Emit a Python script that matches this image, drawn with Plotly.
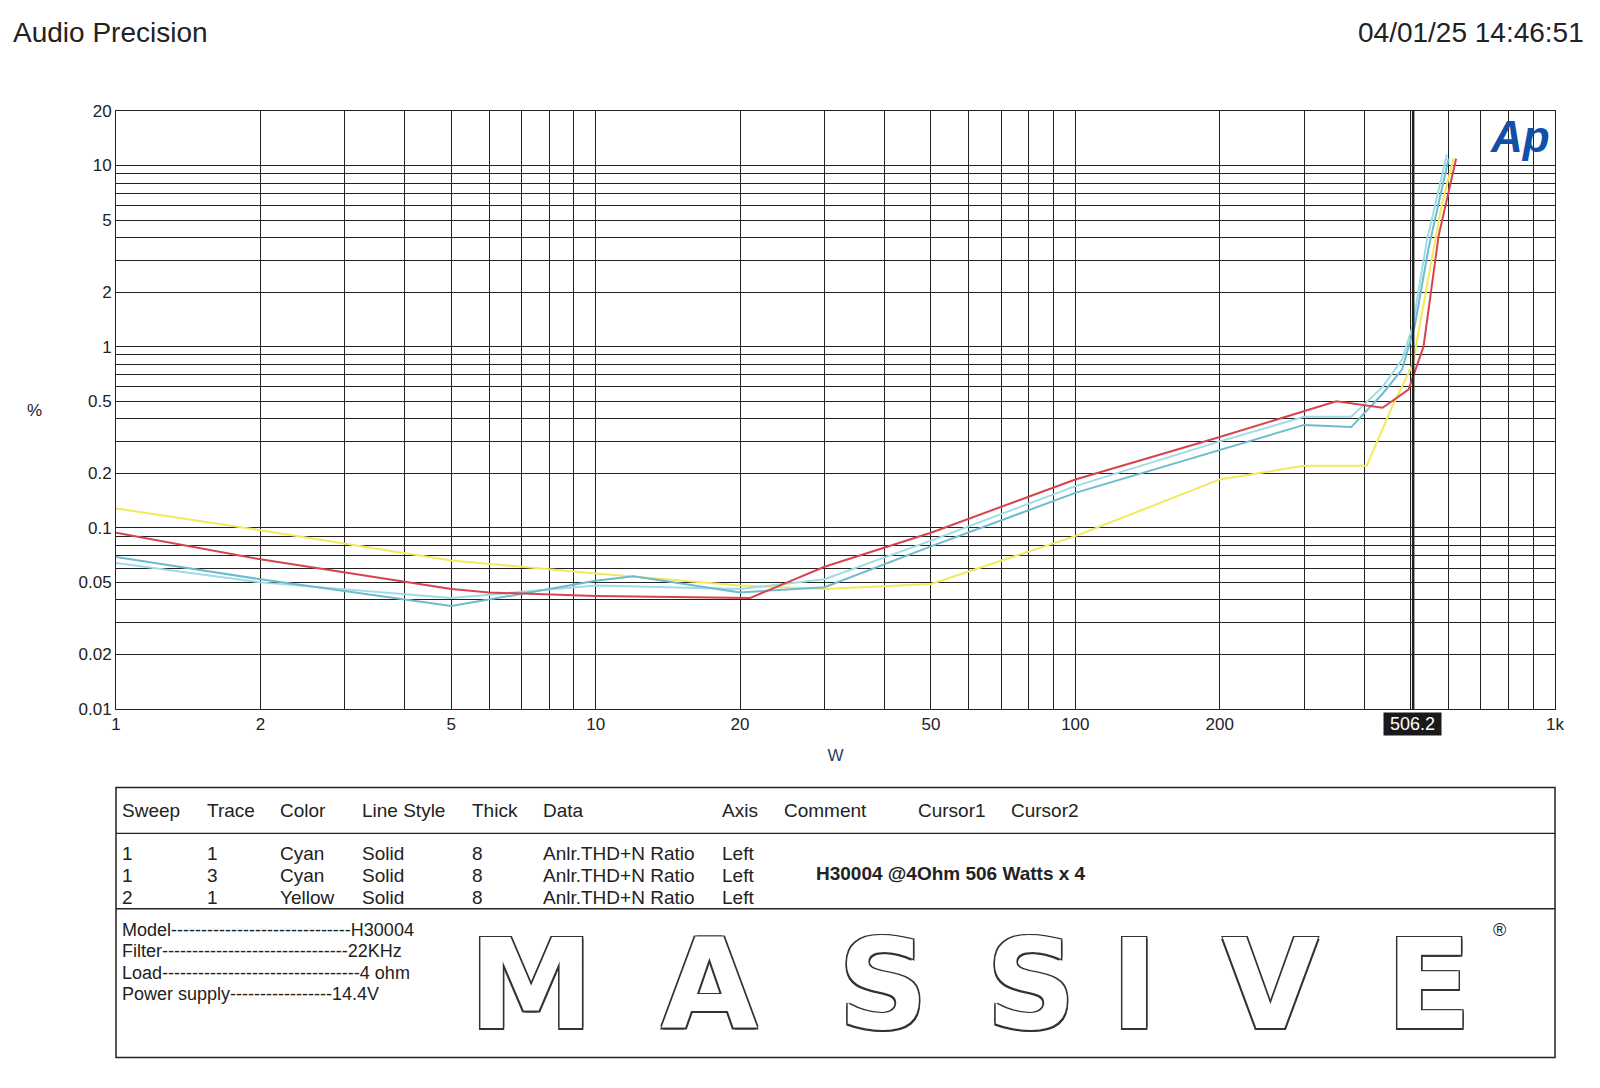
import plotly.graph_objects as go

red_x = [1, 2, 5, 6, 10, 20, 21, 30, 50, 100, 200, 350, 437, 495, 532, 572, 622]
red_y = [0.094, 0.067, 0.046, 0.044, 0.042, 0.041, 0.041, 0.061, 0.094, 0.185, 0.317, 0.50, 0.46, 0.58, 1.0, 4.1, 10.9]
cy1_x = [1, 2, 5, 10, 12, 20, 30, 50, 100, 200, 300, 376, 437, 480, 510, 545, 600]
cy1_y = [0.069, 0.052, 0.037, 0.051, 0.054, 0.044, 0.047, 0.079, 0.156, 0.27, 0.37, 0.36, 0.55, 0.75, 1.3, 3.5, 10.9]
cy2_x = [1, 2, 5, 10, 20, 30, 50, 100, 200, 300, 376, 437, 480, 505, 540, 595]
cy2_y = [0.064, 0.050, 0.041, 0.048, 0.046, 0.052, 0.085, 0.17, 0.30, 0.41, 0.41, 0.60, 0.85, 1.3, 3.8, 11.5]
yel_x = [1, 2, 5, 10, 20, 30, 50, 100, 200, 300, 405, 455, 505, 545, 580, 615]
yel_y = [0.128, 0.097, 0.066, 0.056, 0.048, 0.046, 0.049, 0.09, 0.185, 0.22, 0.22, 0.45, 0.8, 2.5, 6.0, 11.0]

cursor_x = 506.2
x_ticks = [1, 2, 5, 10, 20, 50, 100, 200, 1000]
x_labels = ["1", "2", "5", "10", "20", "50", "100", "200", "1k"]
y_ticks = [0.01, 0.02, 0.05, 0.1, 0.2, 0.5, 1, 2, 5, 10, 20]
y_labels = ["0.01", "0.02", "0.05", "0.1", "0.2", "0.5", "1", "2", "5", "10", "20"]

fig = go.Figure()
for xs, ys, c in [(yel_x, yel_y, "#f2ea5a"), (cy2_x, cy2_y, "#9fdbe6"), (cy1_x, cy1_y, "#6cbcd0"), (red_x, red_y, "#d9434b")]:
    fig.add_trace(go.Scatter(x=xs, y=ys, mode="lines", line=dict(color=c, width=2), showlegend=False))

fig.add_shape(type="line", x0=cursor_x, x1=cursor_x, y0=0, y1=1, xref="x", yref="paper", line=dict(color="#222", width=2.5))

W, H = 1600, 1088
L, R, T, B = 113, 1524, 108, 695
def px(x): return (x - L) / (R - L)
def py(y): return (B - y) / (B - T)

fig.update_xaxes(type="log", range=[0, 3], tickvals=x_ticks, ticktext=x_labels, showgrid=True, gridcolor="#222", gridwidth=1,
                 minor=dict(showgrid=True, gridcolor="#222", gridwidth=1, dtick="D1"), showline=True, linecolor="#222", mirror=True,
                 ticks="", title=dict(text="W", font=dict(size=17)), tickfont=dict(size=17, color="#222"), zeroline=False)
fig.update_yaxes(type="log", range=[-2, 1.30103], tickvals=y_ticks, ticktext=y_labels, showgrid=True, gridcolor="#222", gridwidth=1,
                 minor=dict(showgrid=True, gridcolor="#222", gridwidth=1, dtick="D1"), showline=True, linecolor="#222", mirror=True,
                 ticks="", tickfont=dict(size=17, color="#222"), zeroline=False)

ann = []
def t(x, y, s, size=16, anchor="left", bold=False, color="#222", bg=None, font="Liberation Sans"):
    ann.append(dict(x=px(x), y=py(y), xref="paper", yref="paper", text=("<b>%s</b>" % s) if bold else s, showarrow=False,
                    xanchor=anchor, yanchor="middle", font=dict(size=size, color=color, family=font), bgcolor=bg))

t(10, 31, "Audio Precision", 28)
t(1554, 31, "04/01/25 14:46:51", 28, anchor="right")
t(24, 402, "%", 17)
t(1490, 133, "<i>Ap</i>", 44, anchor="center", bold=True, color="#1050a8")
t(1384, 710, " 506.2 ", 18, anchor="center", color="white", bg="#1a1a1a")

shapes = [
    dict(type="rect", xref="paper", yref="paper", x0=px(122), x1=px(293), y0=py(76), y1=py(107), fillcolor="#1a1a1a", line=dict(width=0)),
    dict(type="rect", xref="paper", yref="paper", x0=px(113), x1=px(1524), y0=py(772), y1=py(1037), line=dict(color="#222", width=1.5)),
    dict(type="line", xref="paper", yref="paper", x0=px(113), x1=px(1524), y0=py(817), y1=py(817), line=dict(color="#222", width=1.2)),
    dict(type="line", xref="paper", yref="paper", x0=px(113), x1=px(1524), y0=py(891), y1=py(891), line=dict(color="#222", width=1.5)),
]
t(138, 92, "dx=0.000   W", 22, color="white")
for x, s in [(117, "Sweep"), (200, "Trace"), (272, "Color"), (352, "Line Style"), (460, "Thick"), (530, "Data"),
             (705, "Axis"), (766, "Comment"), (897, "Cursor1"), (989, "Cursor2")]:
    t(x, 795, s, 19)
rows = [(837, "1", "1", "Cyan"), (858, "1", "3", "Cyan"), (880, "2", "1", "Yellow")]
for y, a, b, c in rows:
    t(117, y, a, 19); t(200, y, b, 19); t(272, y, c, 19); t(352, y, "Solid", 19)
    t(460, y, "8", 19); t(530, y, "Anlr.THD+N Ratio", 19); t(705, y, "Left", 19)
t(797, 856, "H30004 @4Ohm 506 Watts x 4", 19, bold=True)
for y, s in [(912, "Model------------------------------H30004"), (933, "Filter-------------------------------22KHz"),
             (954, "Load---------------------------------4 ohm"), (975, "Power supply-----------------14.4V")]:
    t(117, y, s, 18)
shadow = "-1.5px -1.5px 0 #333, 1.5px -1.5px 0 #333, -1.5px 1.5px 0 #333, 1.5px 1.5px 0 #333"
for x, s in [(520, "M"), (695, "A"), (865, "S"), (1010, "S"), (1112, "I"), (1245, "V"), (1400, "E")]:
    ann.append(dict(x=px(x), y=py(965), xref="paper", yref="paper", text="<b>%s</b>" % s, showarrow=False, xanchor="center", yanchor="middle",
                    font=dict(size=125, color="white", family="DejaVu Sans", shadow=shadow)))
t(1470, 912, "®", 18, anchor="center")

fig.update_layout(width=W, height=H, margin=dict(l=108, r=W - 1547, t=103, b=H - 701),
                  paper_bgcolor="white", plot_bgcolor="white", annotations=ann, shapes=shapes, font=dict(family="Liberation Sans"))
fig.write_html("out.html")
